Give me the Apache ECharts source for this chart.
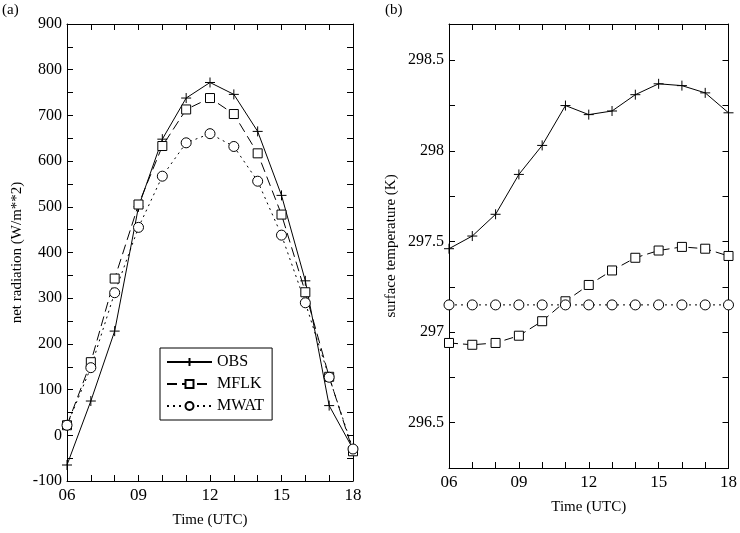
<!DOCTYPE html><html><head><meta charset="utf-8">
<script src="https://cdn.jsdelivr.net/npm/echarts@6/dist/echarts.min.js"></script>
<style>body{margin:0;background:#fff}#c{width:740px;height:533px}</style></head><body><div id="c"></div>
<script>
const hours=[6,7,8,9,10,11,12,13,14,15,16,17,18];
const radOBS=[-65,75,228,500,648,738,772,746,665,525,338,65,-30];
const radMFLK=[22,160,343,505,633,713,738,703,617,483,313,128,-35];
const radMWAT=[22,148,312,455,567,640,660,632,556,438,290,127,-30];
const tOBS=[297.46,297.53,297.65,297.87,298.03,298.25,298.2,298.22,298.31,298.37,298.36,298.32,298.21];
const tMFLK=[296.94,296.93,296.94,296.98,297.06,297.17,297.26,297.34,297.41,297.45,297.47,297.46,297.42];
const tMWAT=[297.15,297.15,297.15,297.15,297.15,297.15,297.15,297.15,297.15,297.15,297.15,297.15,297.15];
const F="'Liberation Serif', 'DejaVu Serif', serif";
const plus='path://M0,5L10,5M5,0L5,10';
const z=(a)=>hours.map((h,i)=>[h,a[i]]);
const xl=v=>(v%3===0?String(v).padStart(2,'0'):'');
function xa(g,pos,show){return {type:'value',gridIndex:g,position:pos,min:6,max:18,interval:1,
 axisLine:{show:true,onZero:false,lineStyle:{color:'#000'}},axisTick:{inside:true,length:6,lineStyle:{color:'#000'}},
 splitLine:{show:false},axisLabel:{show:show,formatter:xl,color:'#000',fontFamily:F,fontSize:17,margin:6},
 name:show?'Time (UTC)':'',nameLocation:'middle',nameGap:32,nameTextStyle:{fontFamily:F,fontSize:15,color:'#000'}};}
function ya(g,pos,show,min,max,iv,fmt,name,gap){return {type:'value',gridIndex:g,position:pos,min:min,max:max,interval:iv,
 axisLine:{show:true,onZero:false,lineStyle:{color:'#000'}},axisTick:{inside:true,length:6,lineStyle:{color:'#000'}},
 splitLine:{show:false},axisLabel:{show:show,formatter:fmt,color:'#000',fontFamily:F,fontSize:16,margin:5},
 name:show?name:'',nameLocation:'middle',nameGap:gap,nameTextStyle:{fontFamily:F,fontSize:15,color:'#000'}};}
const radFmt=v=>(Math.round(v)%100===0?String(Math.round(v)):'');
const tFmt=v=>{const r=Math.round(v*100)/100; if(Math.abs(r*2-Math.round(r*2))<1e-6){return Number.isInteger(r)?String(r):r.toFixed(1);}return '';};
function s(name,x,y,data,sym,type,size){return {name:name,type:'line',xAxisIndex:x,yAxisIndex:y,data:data,symbol:sym,symbolSize:size,
 lineStyle:{color:'#000',width:1,type:type},itemStyle:{color:sym===plus?'none':'#fff',borderColor:'#000',borderWidth:1},animation:false};}
const opt={animation:false,
 graphic:[{type:'text',left:2,top:3,style:{text:'(a)',font:'15px '+F,fill:'#000'}},
          {type:'text',left:385,top:3,style:{text:'(b)',font:'15px '+F,fill:'#000'}}],
 grid:[{left:67,right:387,top:24,bottom:46},{left:449,right:8,top:24,bottom:65}],
 legend:{data:['OBS','MFLK','MWAT'],left:160,top:348,orient:'vertical',itemWidth:45,itemHeight:10,itemGap:6,
  borderColor:'#000',borderWidth:1,borderRadius:0,padding:[6,8,6,6],textStyle:{fontFamily:F,fontSize:16,color:'#000'}},
 xAxis:[xa(0,'bottom',true),xa(0,'top',false),xa(1,'bottom',true),xa(1,'top',false)],
 yAxis:[ya(0,'left',true,-100,900,50,radFmt,'net radiation (W/m**2)',42),ya(0,'right',false,-100,900,50,radFmt,'',0),
        ya(1,'left',true,296.25,298.7,0.25,tFmt,'surface temperature (K)',50),ya(1,'right',false,296.25,298.7,0.25,tFmt,'',0)],
 series:[s('OBS',0,0,z(radOBS),plus,'solid',10),s('MFLK',0,0,z(radMFLK),'rect',[10,5],9),s('MWAT',0,0,z(radMWAT),'circle',[2,4],10),
   s('OBS',2,2,z(tOBS),plus,'solid',10),s('MFLK',2,2,z(tMFLK),'rect',[9,5],9),s('MWAT',2,2,z(tMWAT),'circle',[2,4],10)]};
echarts.init(document.getElementById('c')).setOption(opt);
</script></body></html>
